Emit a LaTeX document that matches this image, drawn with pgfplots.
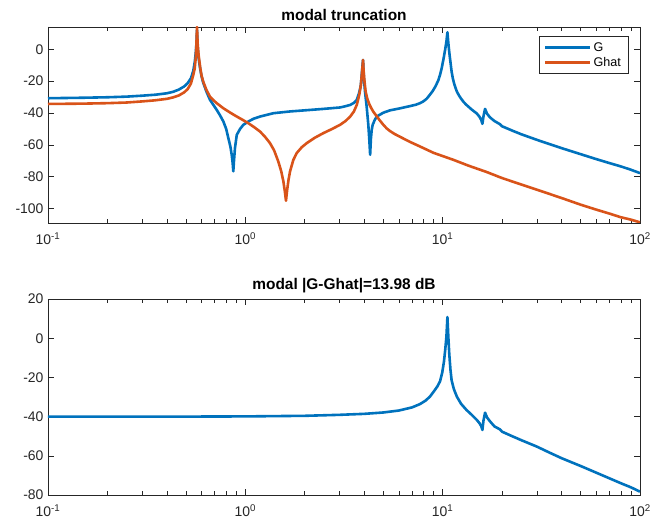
\documentclass[border=0pt]{standalone}
\usepackage{pgfplots}
\pgfplotsset{compat=1.18}
\usepackage{fontspec}
\setmainfont{Liberation Sans}

\definecolor{mblue}{rgb}{0,0.447,0.741}
\definecolor{morange}{rgb}{0.850,0.325,0.098}
\definecolor{axgray}{rgb}{0.15,0.15,0.15}

\pgfplotsset{
  bodestyle/.style={
    scale only axis,
    width=592bp, height=196bp,
    xmin=0.1, xmax=100,
    xtick={0.1,1,10,100},
    xticklabels={10\textsuperscript{-1},10\textsuperscript{0},10\textsuperscript{1},10\textsuperscript{2}},
    tick align=inside,
    major tick length=6bp,
    minor tick length=4bp,
    axis line style={axgray, line width=0.6bp},
    tick style={axgray, line width=0.6bp},
    tick label style={font=\fontsize{14}{16}\selectfont, text=axgray},
    yticklabel style={xshift=-1bp},
    xticklabel style={yshift=-6bp},
    title style={font=\fontsize{15.5}{17}\selectfont\bfseries, yshift=-3bp},
  },
  curve/.style={line width=2.6bp, no markers, line join=round},
}

\begin{document}
\begin{tikzpicture}
\path[use as bounding box] (0,0) rectangle (651bp,526bp);

% upper panel: full model against truncated model
\begin{semilogxaxis}[bodestyle,
  at={(48bp,303bp)}, anchor=south west,
  ymin=-109, ymax=14,
  ytick={-100,-80,-60,-40,-20,0},
  yticklabels={-100,-80,-60,-40,-20,0},
  title={modal truncation},
  legend style={at={(0.98,0.954)}, anchor=north east, draw=axgray, line width=0.5bp,
    font=\fontsize{12.6}{14}\selectfont, row sep=0.5bp, inner xsep=5bp, inner ysep=4bp,
    nodes={inner sep=2bp}, cells={anchor=west}},
  legend image code/.code={\draw[#1, line width=2.6bp] (0bp,0bp) -- (45bp,0bp);},
]
\addplot[mblue, curve] coordinates {
(0.1,-30.7) (0.15,-30.4) (0.2,-30.1) (0.25,-29.7) (0.3,-29.1) (0.35,-28.5)
(0.4,-27.6) (0.43,-26.7) (0.46,-25.3) (0.49,-23.3) (0.51,-21.3) (0.53,-18.2)
(0.545,-13.5) (0.555,-7.5) (0.562,-1) (0.566,5) (0.569,12) (0.573,2)
(0.579,-5) (0.59,-12) (0.60,-17) (0.612,-21) (0.635,-26.5) (0.662,-31.7)
(0.69,-35) (0.716,-38) (0.745,-41.5) (0.774,-45.3) (0.80,-50) (0.820,-55.7)
(0.840,-61) (0.853,-66.2) (0.862,-71) (0.869,-76.6) (0.876,-70) (0.886,-62)
(0.905,-53.7) (0.94,-50) (0.977,-47.4) (1.036,-45.3) (1.10,-43.6) (1.187,-42.2)
(1.387,-40.1) (1.685,-39) (2.0,-38.3) (2.485,-37.4) (3.02,-36.5) (3.2,-35.8)
(3.40,-34.9) (3.55,-33.6) (3.67,-31.7) (3.76,-28) (3.82,-24.5) (3.85,-22.4)
(3.89,-16) (3.925,-10) (3.95,-6.7) (3.975,-14) (4.0,-20) (4.04,-26.5)
(4.12,-36) (4.20,-47.4) (4.25,-57) (4.29,-66.2) (4.33,-56) (4.37,-50.5)
(4.42,-47.4) (4.52,-44.5) (4.63,-42.2) (5.0,-39.8) (5.41,-38.3) (6,-37.2)
(6.8,-35.7) (7.3,-34.8) (7.68,-33.8) (8.0,-32.6) (8.3,-31) (8.62,-28.5)
(8.9,-26.2) (9.2,-23.2) (9.5,-19.5) (9.7,-16) (9.9,-11.5) (10.1,-6)
(10.3,0) (10.45,5) (10.57,10.7) (10.7,3) (10.85,-4) (11.0,-10)
(11.1,-14) (11.25,-18) (11.4,-21) (11.6,-24) (11.8,-26.5) (12.1,-29)
(12.4,-31) (12.8,-33.2) (13.2,-34.9) (14,-37.7) (14.9,-40.3) (15.4,-42.5)
(15.7,-44.5) (15.9,-46.8) (16.1,-42) (16.4,-37.4) (16.8,-40.5) (17.4,-42.8)
(18.3,-45) (19.5,-47) (20,-48.3) (22.5,-51) (25,-53.3) (30,-56.8)
(35,-59.6) (40,-62) (50,-65.8) (60,-68.9) (70,-71.4) (80,-73.5)
(90,-75.6) (100,-77.7)
};
\addlegendentry{G}
\addplot[morange, curve] coordinates {
(0.1,-34.3) (0.15,-34.1) (0.2,-33.8) (0.25,-33.4) (0.3,-32.7) (0.35,-32.0)
(0.4,-31.1) (0.43,-30.2) (0.46,-29) (0.49,-27) (0.51,-25) (0.53,-21.5)
(0.545,-16) (0.554,-12) (0.561,-5) (0.565,3) (0.569,14) (0.573,4)
(0.579,-3) (0.59,-11) (0.60,-16.5) (0.612,-20.3) (0.635,-25.5) (0.662,-29.7)
(0.69,-32) (0.716,-33.8) (0.774,-37) (0.84,-39.8) (0.905,-42.2) (0.97,-44.3)
(1.036,-46.4) (1.11,-48.9) (1.187,-51.6) (1.26,-55) (1.334,-58.9) (1.40,-63.5)
(1.469,-70.4) (1.52,-76.5) (1.559,-82.9) (1.585,-89) (1.607,-95) (1.63,-88)
(1.655,-82) (1.685,-76.6) (1.75,-69.5) (1.822,-65.1) (1.93,-61.5) (2.047,-58.9)
(2.25,-55.5) (2.485,-52.6) (2.75,-50) (3.02,-47.4) (3.22,-45) (3.40,-42.2)
(3.55,-39) (3.67,-34.9) (3.78,-28.5) (3.85,-22.4) (3.90,-15) (3.93,-10)
(3.95,-6.7) (3.97,-12) (4.0,-18) (4.07,-26.5) (4.15,-31) (4.25,-34.5)
(4.35,-37) (4.46,-39.3) (4.6,-41.5) (4.8,-44.6) (5.0,-47.3) (5.2,-49.6)
(5.41,-51.3) (5.7,-53.1) (6.08,-54.9) (6.8,-58) (7.68,-61) (9,-65)
(11.3,-69.3) (13.5,-73) (16.7,-77) (20,-80.8) (30,-88.1) (40,-93.3)
(50,-97.5) (60,-100.6) (70,-103.1) (80,-105.4) (90,-106.9) (100,-108.6)
};
\addlegendentry{Ghat}
\end{semilogxaxis}

% lower panel: magnitude of the error system
\begin{semilogxaxis}[bodestyle,
  at={(48bp,31bp)}, anchor=south west,
  ymin=-80, ymax=20,
  ytick={-80,-60,-40,-20,0,20},
  yticklabels={-80,-60,-40,-20,0,20},
  title={modal |G-Ghat|=13.98 dB},
]
\addplot[mblue, curve] coordinates {
(0.1,-40) (0.5,-40) (1,-39.9) (2,-39.6) (3,-39.1) (4,-38.6)
(5,-37.9) (6,-36.9) (7,-35.3) (7.68,-33.6) (8.2,-31.8) (8.62,-29.8)
(9.0,-27.3) (9.4,-24.6) (9.7,-22) (9.95,-17.5) (10.15,-12) (10.3,-6)
(10.45,1) (10.57,10.8) (10.68,1) (10.8,-8) (10.95,-16) (11.1,-21.5)
(11.4,-26) (11.8,-29.8) (12.4,-33.5) (13.2,-36.6) (14,-39) (14.9,-41.7)
(15.4,-43.5) (15.7,-45) (15.9,-46.8) (16.1,-42) (16.4,-38) (16.8,-40.5)
(17.4,-42.5) (18.3,-45) (19.5,-46.5) (20,-47.7) (22.5,-50) (25,-52)
(30,-55.3) (35,-58.5) (40,-61.2) (50,-65.2) (60,-68.6) (70,-71.5)
(80,-74) (90,-76.1) (100,-78.3)
};
\end{semilogxaxis}
\end{tikzpicture}
\end{document}
